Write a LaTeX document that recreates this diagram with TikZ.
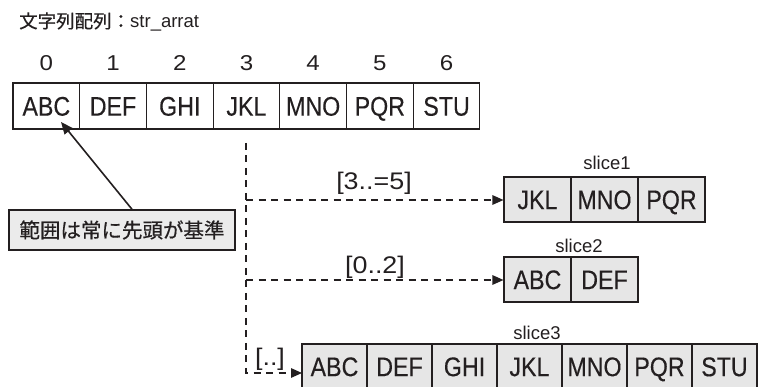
\documentclass[tikz,border=0pt]{standalone}
\usepackage{fontspec}
\setmainfont{Liberation Sans}
\newfontfamily\narrowsans[FakeStretch=0.86,FakeBold=0.25]{Liberation Sans}
\newfontfamily\widesans[FakeStretch=1.12]{Liberation Sans}
\newfontfamily\jp{Noto Sans CJK JP}
\newfontfamily\jpheavy[FakeBold=0.6]{Noto Sans CJK JP}
\usetikzlibrary{arrows.meta,calc}

\definecolor{ink}{HTML}{231F20}
\definecolor{cellfill}{HTML}{E6E6E6}
\definecolor{notefill}{HTML}{EBEBEB}

\begin{document}
\begin{tikzpicture}[x=1pt,y=-1pt,
  cell/.style={draw=ink,line width=1.1pt,minimum height=46pt,inner sep=0pt,
    text=ink,font=\narrowsans\fontsize{27}{27}\selectfont,
    text height=19.4pt,text depth=0pt},
  topcell/.style={cell,minimum width=66.7pt},
  slicecell/.style={cell,fill=cellfill,minimum width=67pt,minimum height=45pt},
  widecell/.style={cell,fill=cellfill,minimum width=65pt,minimum height=45pt},
  frame/.style={draw=ink,line width=1.8pt},
  idx/.style={text=ink,font=\widesans\fontsize{21.5}{21.5}\selectfont},
  slicename/.style={text=ink,font=\fontsize{18.5}{18.5}\selectfont},
  rangelabel/.style={text=ink,font=\widesans\fontsize{24}{24}\selectfont,inner sep=0pt},
  dashline/.style={draw=ink,line width=1.4pt,dash pattern=on 7pt off 5.5pt},
  tip/.style={-{Triangle[length=11pt,width=9.5pt]}},
]
\clip (0,0) rectangle (764,387);

% heading
\node[anchor=west,text=ink,font=\fontsize{18.5}{18.5}\selectfont,inner sep=0pt] (title) at (19,22)
  {{\jpheavy 文字列配列：}str\_arrat};

% source array with its indices
\foreach \t [count=\i from 0] in {ABC,DEF,GHI,JKL,MNO,PQR,STU} {
  \node[topcell] (c\i) at ({13+66.7*(\i+0.5)},106) {\t};
  \node[idx] (n\i) at ({13+66.7*(\i+0.5)},63) {\i};
}

% slice1
\foreach \t [count=\i from 0] in {JKL,MNO,PQR}
  \node[slicecell] (a\i) at ({504+67*(\i+0.5)},199.5) {\t};
\draw[frame] (a0.north west) rectangle (a2.south east);
\node[slicename] (l1) at (607,163) {slice1};

% slice2
\foreach \t [count=\i from 0] in {ABC,DEF}
  \node[slicecell] (b\i) at ({504+67*(\i+0.5)},279.5) {\t};
\draw[frame] (b0.north west) rectangle (b1.south east);
\node[slicename] (l2) at (579,246) {slice2};

% slice3
\foreach \t [count=\i from 0] in {ABC,DEF,GHI,JKL,MNO,PQR,STU}
  \node[widecell] (d\i) at ({302+65*(\i+0.5)},366.5) {\t};
\draw[frame] (d0.north west) rectangle (d6.south east);
\node[slicename] (l3) at (537,333) {slice3};

% note about where ranges start
\node[draw=ink,line width=1.4pt,fill=notefill,minimum width=226pt,minimum height=40pt,
  inner sep=0pt,text=ink,font=\jpheavy\fontsize{20.5}{20.5}\selectfont] (note) at (122,230)
  {範囲は常に先頭が基準};
\coordinate (aim) at (61,122);
\draw[ink,line width=1.6pt,-{Triangle[length=12pt,width=10pt]}] ([xshift=10pt]note.north) -- (aim);

% dashed range connectors
\coordinate (trunk) at (246,143);
\coordinate (j1) at (246,200);
\coordinate (j2) at (246,280);
\coordinate (end3) at (302,373);
\draw[dashline,tip] (trunk) |- (end3);
\draw[dashline,tip] (j1) -- (a0.west |- j1);
\draw[dashline,tip] (j2) -- (b0.west |- j2);

\node[rangelabel] (r1) at (374,183) {[3..=5]};
\node[rangelabel] (r2) at (375,267) {[0..2]};
\node[rangelabel] (r3) at (270,359) {[..]};
\end{tikzpicture}
\end{document}
